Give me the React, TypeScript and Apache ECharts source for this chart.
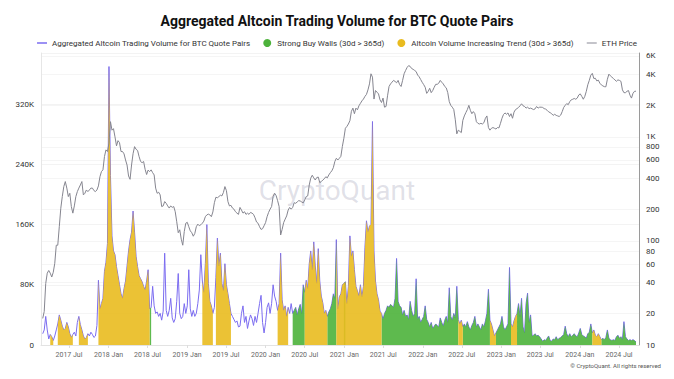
import React, { useEffect, useRef } from 'react';
import * as echarts from 'echarts';

const titleText = 'Aggregated Altcoin Trading Volume for BTC Quote Pairs';
const volName = 'Aggregated Altcoin Trading Volume for BTC Quote Pairs';
const greenName = 'Strong Buy Walls (30d > 365d)';
const yellowName = 'Altcoin Volume Increasing Trend (30d > 365d)';
const ethName = 'ETH Price';

// weekly samples starting at this date
const startDate = '2017-03-01';

// aggregated volume, thousands
const volumeK = [
  15, 20, 38, 20, 8, 14, 11, 6, 12, 20, 28, 40, 33, 25, 20, 22, 30, 24, 15, 10,
  14, 17, 12, 30, 38, 27, 20, 12, 8, 10, 15, 12, 17, 14, 10, 12, 26, 86, 48, 55,
  62, 98, 110, 135, 370, 225, 145, 125, 120, 104, 92, 80, 68, 62, 75, 85, 105, 125, 140, 150,
  178, 150, 118, 104, 92,
  88, 84, 78, 73, 85, 100, 48, 50, 78, 52, 42, 44, 38, 42, 33, 45, 122, 46, 38, 46,
  62, 36, 30, 35, 58, 95, 42, 35, 38, 55, 42, 52, 100, 48, 38, 46, 38, 42, 55, 73,
  120, 85, 70, 108, 160, 82, 58, 52, 42, 50, 90, 142, 105, 122, 82, 72, 108, 80, 68, 55,
  42, 38, 34, 30, 32, 24,
  25, 42, 52, 30, 38, 22, 32, 40, 35, 26, 38, 30, 42, 55, 66, 30, 16, 30, 50, 56,
  42, 55, 80, 65, 58, 46, 55, 122, 60, 46, 52, 38, 50, 42, 55, 42, 46, 50, 40, 48,
  54, 42, 80, 70, 86, 75, 108, 125, 100, 137, 105, 82, 128, 85, 65, 56, 42, 46, 38, 44,
  48, 55, 68, 62, 140, 48, 64,
  68, 80, 82, 84, 55, 78, 145, 118, 125, 100, 78, 72, 65, 80, 64, 78, 130, 165, 150, 158,
  160, 297, 125, 85, 68, 60, 45, 42, 34, 42, 46, 52, 50, 54, 52, 50, 62, 115, 58, 52,
  50, 40, 46, 38, 40, 34, 58, 46, 38, 42, 88, 34, 38, 30, 34, 38, 52, 34, 30, 24,
  30, 22, 25, 28, 26, 24,
  36, 30, 25, 33, 38, 30, 76, 38, 33, 42, 36, 78, 34, 28, 33, 24, 28, 24, 31, 24,
  20, 26, 30, 38, 24, 28, 24, 20, 28, 24, 32, 42, 74, 33, 28, 20, 12, 16, 20, 24,
  28, 38, 24, 20, 24, 28, 103, 28, 24, 32, 38, 42, 55, 38, 62, 24, 16, 55, 69, 30,
  40, 12, 13, 15, 12, 13, 11,
  8, 5, 7, 6, 9, 12, 6, 5, 8, 7, 11, 7, 9, 10, 12, 14, 25, 15, 11, 15,
  11, 13, 15, 12, 11, 16, 22, 14, 12, 11, 9, 15, 17, 28, 16, 20, 13, 11, 15, 11,
  7, 9, 7, 10, 20, 9, 7, 6, 7, 6, 11, 13, 9, 11, 7, 31, 11, 8, 6, 7,
  6, 7, 6, 4,
];

// ETH price, USD, same weekly dates
const ethPrice = [
  18, 21, 39, 49, 52, 49, 45, 50, 61, 91, 91, 137, 206, 267, 333, 372, 322, 267, 287, 214,
  185, 217, 267, 298, 322, 345, 372, 277, 287, 309, 298, 309, 322, 322, 305, 298, 309, 338, 414, 464,
  482, 647, 750, 723, 870, 1400, 1160, 1200, 1000, 820, 920, 880, 723, 723, 687, 600, 537, 421, 391, 537,
  690, 806, 760, 740, 647,
  580, 565, 580, 488, 435, 480, 464, 482, 453, 431, 322, 287, 294, 277, 214, 217, 239, 230, 217, 207,
  217, 210, 214, 191, 153, 120, 128, 104, 91, 123, 148, 151, 137, 125, 120, 111, 118, 137, 145, 140,
  143, 148, 155, 171, 178, 181, 178, 171, 190, 233, 263, 260, 267, 275, 271, 292, 333, 304, 239, 217,
  220, 207, 202, 191, 185, 180,
  210, 198, 185, 191, 180, 185, 180, 188, 185, 180, 167, 152, 148, 137, 129, 131, 140, 150, 171, 188,
  202, 214, 267, 287, 273, 244, 214, 114, 129, 150, 162, 174, 198, 210, 202, 210, 233, 230, 237, 244,
  242, 237, 232, 248, 267, 271, 345, 401, 428, 404, 385, 407, 411, 363, 372, 385, 396, 414, 404, 431,
  453, 472, 506, 580, 623, 600, 623,
  650, 810, 970, 1210, 1260, 1330, 1430, 1760, 1890, 1670, 1890, 1820, 1990, 2100, 2220, 2310, 2450, 2560, 2830, 3230,
  4040, 3750, 2310, 2790, 2690, 2590, 2270, 2140, 2360, 1930, 1960, 2480, 3050, 3230, 3360, 3490, 3410, 3310, 3490, 3180,
  3050, 3490, 4040, 4350, 4650, 4840, 4760, 4540, 4460, 4350, 4240, 3930, 3780, 3560, 3350, 3180, 3000, 2620, 2740, 2930,
  2660, 2790, 3000, 3200, 3200, 3280,
  3490, 3350, 3230, 3050, 2960, 2660, 2180, 2010, 1930, 1830, 1460, 1070, 1160, 1130, 1100, 1440, 1590, 1710, 1830, 2010,
  1800, 1670, 1750, 1670, 1400, 1350, 1330, 1350, 1330, 1370, 1510, 1590, 1230, 1160, 1210, 1230, 1210, 1190, 1230, 1220,
  1350, 1510, 1640, 1700, 1650, 1700, 1570, 1670, 1510, 1730, 1830, 1870, 1920, 1990, 2080, 1990, 1960, 1890, 1930, 1870,
  1890, 1860, 1830, 1860, 1960, 1890, 1930,
  1930, 1920, 1870, 1850, 1800, 1740, 1710, 1670, 1610, 1650, 1610, 1590, 1570, 1620, 1750, 1920, 2010, 2090, 2040, 2180,
  2270, 2300, 2340, 2300, 2360, 2530, 2590, 2450, 2300, 2450, 2740, 3170, 3490, 3920, 4080, 3640, 3660, 3450, 3510, 3280,
  3160, 3090, 3040, 3030, 3580, 4010, 3860, 3750, 3640, 3530, 3420, 3530, 3490, 3420, 2830, 2660, 2660, 2740, 2790, 2520,
  2360, 2620, 2740, 2750,
];

const yellowRanges = [
  ['2017-04-04', '2017-04-18'], ['2017-05-06', '2017-07-15'], ['2017-08-12', '2017-09-23'],
  ['2017-11-13', '2018-07-08'], ['2019-03-07', '2019-05-01'], ['2019-05-15', '2019-07-19'],
  ['2020-02-23', '2020-04-09'], ['2020-06-28', '2020-10-12'], ['2020-11-19', '2020-12-26'],
  ['2021-01-04', '2021-06-17'], ['2022-06-13', '2022-07-02'], ['2022-11-05', '2022-12-02'],
  ['2023-02-10', '2023-03-10'], ['2024-02-26', '2024-04-08'],
];
const greenRanges = [
  ['2018-07-08', '2018-07-17'], ['2020-05-03', '2020-06-28'], ['2020-10-12', '2020-11-19'],
  ['2020-12-26', '2021-01-04'], ['2021-06-17', '2022-06-13'], ['2022-07-02', '2022-11-05'],
  ['2022-12-02', '2023-02-10'], ['2023-03-10', '2024-02-26'], ['2024-04-08', '2024-09-30'],
];

const xTickDates = [
  '2017-07-01', '2018-01-01', '2018-07-01', '2019-01-01', '2019-07-01', '2020-01-01', '2020-07-01',
  '2021-01-01', '2021-07-01', '2022-01-01', '2022-07-01', '2023-01-01', '2023-07-01', '2024-01-01', '2024-07-01',
];
const leftTickStep = 80000;
const rightTicks = [10, 20, 40, 60, 80, 100, 200, 400, 600, 800, 1000, 2000, 4000, 6000];
const monthNames = ['Jan', 'Feb', 'Mar', 'Apr', 'May', 'Jun', 'Jul', 'Aug', 'Sep', 'Oct', 'Nov', 'Dec'];

const DAY = 86400000;
const toTs = (s: string) => {
  const [y, m, d] = s.split('-').map(Number);
  return Date.UTC(y, m - 1, d);
};

const PURPLE = '#7b6cf0';
const GREEN = '#4db23b';
const YELLOW = '#e9bb1f';
const GRAY = '#85858f';
const lineIcon = 'path://M0 0H20V3H0Z';

export default function App() {
  const ref = useRef<HTMLDivElement>(null);
  useEffect(() => {
    const chart = echarts.init(ref.current as HTMLDivElement, null, { renderer: 'svg' });
    const t0 = toTs(startDate);
    const dates = volumeK.map((_, i) => t0 + i * 7 * DAY);
    const inRanges = (t: number, ranges: string[][]) =>
      ranges.some(([a, b]) => t >= toTs(a) && t < toTs(b));
    const regimeData = (ranges: string[][]) =>
      dates.map((t, i) => {
        const on = inRanges(t, ranges) || (i > 0 && inRanges(dates[i - 1], ranges));
        return [t, on ? volumeK[i] * 1000 : null];
      });
    const volData = dates.map((t, i) => [t, volumeK[i] * 1000]);
    const greenData = regimeData(greenRanges);
    const yellowData = regimeData(yellowRanges);
    const ethData = dates.map((t, i) => [t, ethPrice[i]]);
    const xTicks = xTickDates.map(toTs);
    const font = 'Roboto';

    chart.setOption({
      animation: false,
      textStyle: { fontFamily: font },
      title: {
        text: titleText,
        left: 'center',
        top: 9,
        textStyle: { fontSize: 14, fontWeight: 'bold', color: '#111', fontFamily: font },
      },
      legend: {
        top: 34,
        left: 'center',
        itemWidth: 10,
        itemHeight: 8,
        itemGap: 13,
        textStyle: { fontSize: 8, color: '#333', fontFamily: font },
        data: [
          { name: volName, icon: lineIcon },
          { name: greenName, icon: 'circle' },
          { name: yellowName, icon: 'circle' },
          { name: ethName, icon: lineIcon, itemStyle: { color: '#b0b0b8' } },
        ],
      },
      grid: { left: 41, right: 35, top: 53, bottom: 34, containLabel: false },
      xAxis: {
        type: 'value',
        min: toTs('2017-02-21'),
        max: toTs('2024-10-02'),
        axisLine: { show: true, lineStyle: { color: '#e3e3e3' } },
        axisTick: { show: true, customValues: xTicks, length: 3, lineStyle: { color: '#dddddd' } },
        axisLabel: {
          customValues: xTicks,
          fontSize: 7,
          color: '#666',
          margin: 6,
          formatter: (v: number) => {
            const d = new Date(v);
            return `${d.getUTCFullYear()} ${monthNames[d.getUTCMonth()]}`;
          },
        },
        splitLine: { show: false },
      },
      yAxis: [
        {
          type: 'value',
          min: 0,
          max: 388000,
          interval: leftTickStep,
          position: 'left',
          axisLine: { show: true, lineStyle: { color: '#e6e6e6' } },
          axisTick: { show: false },
          axisLabel: {
            showMaxLabel: false,
            fontSize: 8,
            color: '#333',
            margin: 7,
            formatter: (v: number) => (v === 0 ? '0' : `${v / 1000}K`),
          },
          splitLine: { show: true, lineStyle: { color: '#f3f3f3' } },
        },
        {
          type: 'log',
          logBase: 10,
          min: 10,
          max: 6400,
          position: 'right',
          axisLine: { show: true, lineStyle: { color: '#9a9a9a' } },
          axisTick: { show: false, customValues: rightTicks },
          axisLabel: {
            customValues: rightTicks,
            fontSize: 8,
            color: '#333',
            margin: 7,
            formatter: (v: number) => (v >= 1000 ? `${Math.round(v / 1000)}K` : `${Math.round(v)}`),
          },
          splitLine: { show: true, lineStyle: { color: '#f5f5f5' } },
        },
      ],
      graphic: [
        {
          type: 'text',
          left: 'center',
          top: 176,
          z: 0,
          style: {
            text: 'CryptoQuant',
            fontSize: 28,
            fontFamily: font,
            fill: 'rgba(160,160,182,0.33)',
          },
        },
        {
          type: 'text',
          right: 13,
          top: 362,
          style: {
            text: '© CryptoQuant. All rights reserved',
            fontSize: 6,
            fontFamily: font,
            fill: '#555',
          },
        },
      ],
      series: [
        {
          name: volName,
          type: 'line',
          data: volData,
          symbol: 'none',
          lineStyle: { color: PURPLE, width: 1 },
          itemStyle: { color: PURPLE },
          z: 2,
        },
        {
          name: greenName,
          type: 'line',
          data: greenData,
          symbol: 'none',
          connectNulls: false,
          lineStyle: { opacity: 0 },
          areaStyle: { color: GREEN, opacity: 0.9 },
          itemStyle: { color: GREEN },
          z: 3,
        },
        {
          name: yellowName,
          type: 'line',
          data: yellowData,
          symbol: 'none',
          connectNulls: false,
          lineStyle: { opacity: 0 },
          areaStyle: { color: YELLOW, opacity: 0.9 },
          itemStyle: { color: YELLOW },
          z: 3,
        },
        {
          name: ethName,
          type: 'line',
          yAxisIndex: 1,
          data: ethData,
          symbol: 'none',
          lineStyle: { color: GRAY, width: 1 },
          itemStyle: { color: GRAY },
          z: 4,
        },
      ],
    });
    return () => chart.dispose();
  }, []);
  return (
    <div
      ref={ref}
      style={{ position: 'fixed', left: 0, top: 0, width: 674, height: 379, background: '#fff' }}
    />
  );
}
